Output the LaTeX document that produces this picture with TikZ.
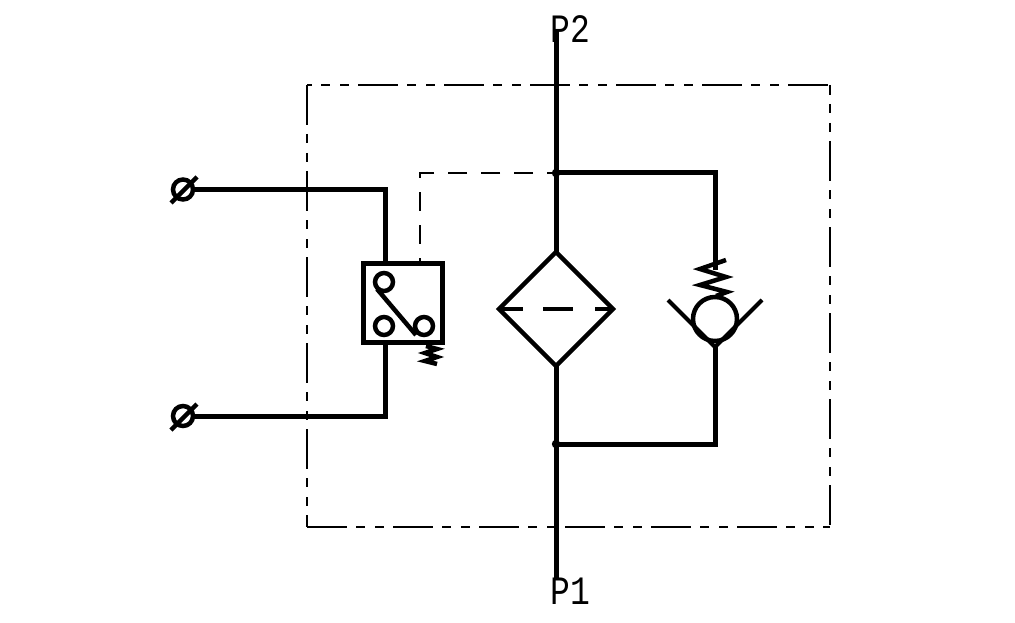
\documentclass[tikz,border=0pt]{standalone}
\usepackage{fontspec}
\setmonofont{Liberation Mono}
\usetikzlibrary{shapes.geometric}
\newcommand\tallText[1]{\scalebox{1}[1.22]{#1}}
\tikzset{
  pipe/.style={line width=5pt,line join=miter},
  pilot/.style={line width=1.2pt,dash pattern=on 19pt off 14pt,dash phase=10pt},
  housing/.style={line width=1.1pt,dash pattern=on 40pt off 9pt on 9pt off 10pt on 9pt off 9pt},
  port/.style={draw,circle,line width=4.5pt,minimum size=20pt,inner sep=0pt,outer sep=0pt},
  tag/.style={font=\fontsize{33}{33}\selectfont\ttfamily,inner sep=0pt}
}
\begin{document}
\begin{tikzpicture}[x=1pt,y=-1pt]
  \useasboundingbox (0,0) rectangle (1015,623);

  \coordinate (h1) at (307,85);
  \coordinate (h2) at (830,85);
  \coordinate (h3) at (830,527);
  \coordinate (h4) at (307,527);
  \draw[housing,dash phase=35pt] (h1) -- (h2);
  \draw[housing,dash phase=30pt] (h2) -- (h3);
  \draw[housing] (h1) -- (h4);
  \draw[housing] (h4) -- (h3);

  \node[tag] (p2) at (570.5,29) {\tallText{P2}};
  \node[tag] (p1) at (570.5,591) {\tallText{P1}};

  \coordinate (top) at (556,30);
  \coordinate (bottom) at (556,580);
  \coordinate (j1) at (556,173);
  \coordinate (j2) at (556,444);
  \coordinate (c1) at (715,173);
  \coordinate (c2) at (715,444);
  \fill (j1) circle (4.2pt);
  \fill (j2) circle (4.2pt);

  % filter
  \node[diamond,draw,line width=4.5pt,minimum width=114pt,minimum height=114pt,inner sep=0pt,outer sep=0pt] (filter) at (556,309) {};
  \draw[pipe] (top) -- (filter.north);
  \draw[pipe] (filter.south) -- (bottom);
  \draw[line width=4.5pt] (filter.west) -- +(24,0);
  \draw[line width=4.5pt] (543,309) -- (573,309);
  \draw[line width=4.5pt] (filter.east) -- +(-18,0);

  % check valve
  \node[draw,circle,line width=4.5pt,minimum size=44pt,inner sep=0pt,outer sep=0pt] (ball) at (715,319) {};
  \coordinate (vl) at (668,300);
  \coordinate (vm) at (715,347);
  \coordinate (vr) at (762,300);
  \draw[line width=4pt] (vl) -- (vm) -- (vr);
  \draw[pipe] (j1) -- (c1) -- (715,270);
  \draw[pipe] (vm) -- (c2) -- (j2);
  \draw[line width=4.5pt] (726,260) -- (700,269) -- (726,277) -- (700,285) -- (727,292) -- (716,296);

  % switch
  \node[draw,line width=5pt,minimum size=79pt,inner sep=0pt,outer sep=0pt] (switch) at (402.5,303) {};
  \node[port,minimum size=18pt] (s1) at (384,282) {};
  \node[port,minimum size=18pt] (s2) at (384,326) {};
  \node[port,minimum size=18pt] (s3) at (424,326) {};
  \draw[line width=4.5pt] (377,289) -- (416,335);
  \draw[line width=4.5pt] (426,346) -- (437,349) -- (425,353) -- (437,357) -- (425,361) -- (437,364);

  \node[port] (u1) at (183,189.5) {};
  \node[port] (u2) at (183,416) {};
  \coordinate (k1) at (385,189.5);
  \coordinate (k2) at (385,416);
  \draw[pipe] (u1) -- (k1) -- (385,264);
  \draw[pipe] (385,343) -- (k2) -- (u2);
  \draw[line width=4.5pt] (171,203) -- (197,177);
  \draw[line width=4.5pt] (171,430) -- (197,404);

  \draw[pilot] (j1) -- (420,173) -- (420,264);
\end{tikzpicture}
\end{document}
